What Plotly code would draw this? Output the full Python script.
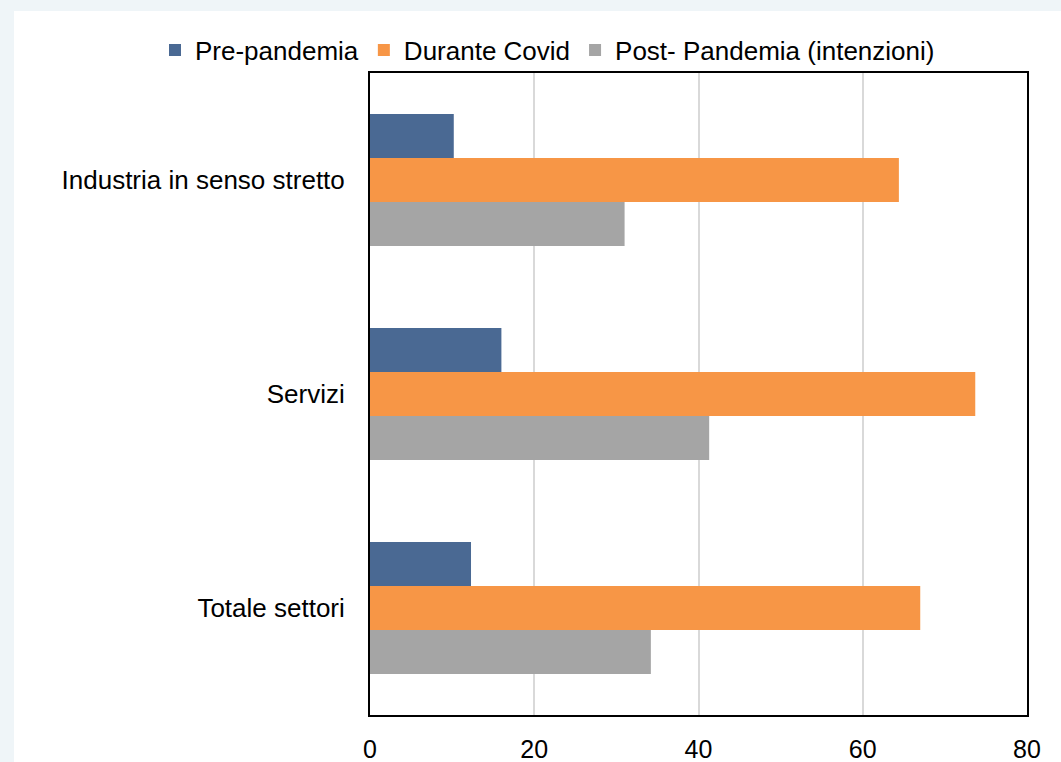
import plotly.graph_objects as go

categories = ["Industria in senso stretto", "Servizi", "Totale settori"]
series_names = ["Pre-pandemia", "Durante Covid", "Post- Pandemia (intenzioni)"]
pre_pandemia = [10.2, 16.0, 12.3]
durante_covid = [64.4, 73.7, 67.0]
post_pandemia = [31.0, 41.3, 34.2]
colors = ["#4a6993", "#f79646", "#a5a5a5"]
x_ticks = [0, 20, 40, 60, 80]

W, H = 1061, 762
L, R, T, B = 370, 34, 73, 47
pw, ph = W - L - R, H - T - B

fig = go.Figure()
for name, vals, c in zip(series_names, [pre_pandemia, durante_covid, post_pandemia], colors):
    fig.add_trace(go.Bar(y=categories, x=vals, name=name, orientation="h",
                         marker=dict(color=c, line=dict(width=0))))

# background panel
def px_x(p):
    return (p - L) / pw
def px_y(p):
    return (H - B - p) / ph

fig.add_shape(type="rect", xref="paper", yref="paper",
              x0=px_x(14), x1=px_x(W + 5), y0=px_y(H + 5), y1=px_y(11),
              fillcolor="white", line=dict(width=0), layer="below")

font = "Liberation Sans, Arial, sans-serif"
fig.update_layout(
    width=W, height=H,
    margin=dict(l=L, r=R, t=T, b=B, autoexpand=False),
    paper_bgcolor="#eff5f8",
    plot_bgcolor="white",
    barmode="group",
    bargap=0.383,
    bargroupgap=0,
    font=dict(family=font, size=26, color="black"),
    legend=dict(orientation="h", xref="paper", yref="paper",
                x=px_x(155), xanchor="left", y=px_y(50), yanchor="middle",
                font=dict(size=26), itemwidth=30, tracegroupgap=0,
                bgcolor="rgba(0,0,0,0)"),
    xaxis=dict(range=[0, 80], tickvals=x_ticks, showgrid=True, gridcolor="#d9d9d9",
               gridwidth=2, zeroline=False, showline=True, linecolor="black",
               linewidth=2, mirror=True, ticks="", ticklabelstandoff=11,
               tickfont=dict(size=25), automargin=False),
    yaxis=dict(autorange="reversed", showline=True, linecolor="black", linewidth=2,
               mirror=True, ticks="", ticklabelstandoff=18, showgrid=False,
               tickfont=dict(size=26), automargin=False),
)

fig.write_html("out.html", config={"displayModeBar": False},
               post_script="document.body.style.margin='0';document.body.style.overflow='hidden';")
